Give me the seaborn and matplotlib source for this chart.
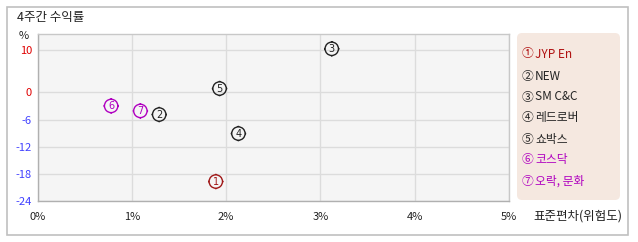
import numpy as np
import pandas as pd
import matplotlib
matplotlib.use("Agg")
import matplotlib.pyplot as plt
import seaborn as sns
from matplotlib.patches import FancyBboxPatch, Rectangle
from matplotlib.path import Path

names = ["JYP En", "NEW", "SM C&C", "레드로버", "쇼박스", "코스닥", "오락, 문화"]
marks = ["①", "②", "③", "④", "⑤", "⑥", "⑦"]
digits = ["1", "2", "3", "4", "5", "6", "7"]
std_dev = [1.89, 1.29, 3.12, 2.13, 1.93, 0.78, 1.09]
returns = [-19.7, -4.9, 10.3, -9.1, 0.9, -3.0, -4.1]
colors = ["#a01818", "#222222", "#222222", "#222222", "#222222", "#b000c0", "#b000c0"]
legend_colors = ["#b01010", "#222222", "#222222", "#222222", "#222222", "#b000c0", "#b000c0"]
yticks = [10, 0, -6, -12, -18, -24]
xticks = [0, 1, 2, 3, 4, 5]

sns.set_style("white")
plt.rcParams["font.family"] = ["Noto Sans CJK KR", "DejaVu Sans"]

W, H = 638, 242
fig = plt.figure(figsize=(W / 100, H / 100), dpi=100)

# outer frame
fig.patches.append(Rectangle((6.5 / W, 1 - 235 / H), 621 / W, 228 / H, transform=fig.transFigure,
                             fill=False, edgecolor="#c0c0c0", linewidth=1.2))
fig.text(17 / W, 1 - 17 / H, "4주간 수익률", fontsize=9, va="center", ha="left", color="#222222")

ax = fig.add_axes([37.6 / W, 1 - 201 / H, (509 - 37.6) / W, (201 - 34) / H])

# piecewise-linear y scale (the original chart compresses the positive range)
k = 0.934
def fwd(y):
    y = np.asarray(y, dtype=float)
    return np.where(y > 0, y * k, y)
def inv(y):
    y = np.asarray(y, dtype=float)
    return np.where(y > 0, y / k, y)

# circle marker with four small ticks
circ = Path.unit_circle()
r0, r1 = 1.0, 1.16
tick_verts = [(0, r0), (0, r1), (0, -r0), (0, -r1), (r0, 0), (r1, 0), (-r0, 0), (-r1, 0)]
tick_codes = [Path.MOVETO, Path.LINETO] * 4
ticks_path = Path(tick_verts, tick_codes)
marker_path = Path.make_compound_path(circ, ticks_path)

df = pd.DataFrame({"x": std_dev, "y": returns, "name": names})
sns.scatterplot(data=df, x="x", y="y", hue="name", palette=dict(zip(names, colors)),
                s=125, marker=marker_path, linewidth=1.0, legend=False, ax=ax, zorder=3)
coll = ax.collections[0]
coll.set_edgecolors(colors)
coll.set_facecolors("none")
for xv, yv, d, c in zip(std_dev, returns, digits, colors):
    ax.text(xv, yv, d, color=c, fontsize=7, ha="center", va="center", zorder=4,
            family=["DejaVu Sans"])

ax.set_yscale("function", functions=(fwd, inv))
ax.set_xlim(0, 5)
ax.set_ylim(-24, 13.8)
ax.set_facecolor("#f5f5f5")
ax.set_xticks(xticks)
ax.set_yticks(yticks)
ax.set_xticklabels([f"{t}%" for t in xticks], fontsize=8, color="#222222")
ax.set_yticklabels([str(t) for t in yticks], fontsize=8)
for lab, t in zip(ax.get_yticklabels(), yticks):
    lab.set_color("#e00000" if t >= 0 else "#4040ff")
ax.tick_params(axis="both", length=0, pad=4)
ax.tick_params(axis="x", pad=8)
ax.grid(True, color="#dcdcdc", linewidth=1)
ax.set_axisbelow(True)
for s in ax.spines.values():
    s.set_color("#c8c8c8")
    s.set_linewidth(1)
ax.spines["left"].set_color("#b0b0b0")
ax.spines["bottom"].set_color("#b0b0b0")
ax.set_xlabel("")
ax.set_ylabel("")

fig.text(24 / W, 1 - 36 / H, "%", fontsize=8, ha="center", va="center", color="#222222")
fig.text(622 / W, 1 - 216 / H, "표준편차(위험도)", fontsize=9, ha="right", va="center", color="#222222")

# legend box
fig.patches.append(FancyBboxPatch((517 / W, 1 - 200 / H), 103 / W, 167 / H,
                                  boxstyle="round,pad=0,rounding_size=0.008",
                                  transform=fig.transFigure, facecolor="#f5e8e0",
                                  edgecolor="none", mutation_aspect=W / H))
ys = [54, 76, 97, 118, 139, 160, 181]
for m, n, c, yy in zip(marks, names, legend_colors, ys):
    fig.text(522 / W, 1 - yy / H, m, fontsize=8.5, ha="left", va="center", color=c)
    fig.text(535 / W, 1 - yy / H, n, fontsize=8.5, ha="left", va="center", color=c)

fig.savefig("out.png", dpi=100)
